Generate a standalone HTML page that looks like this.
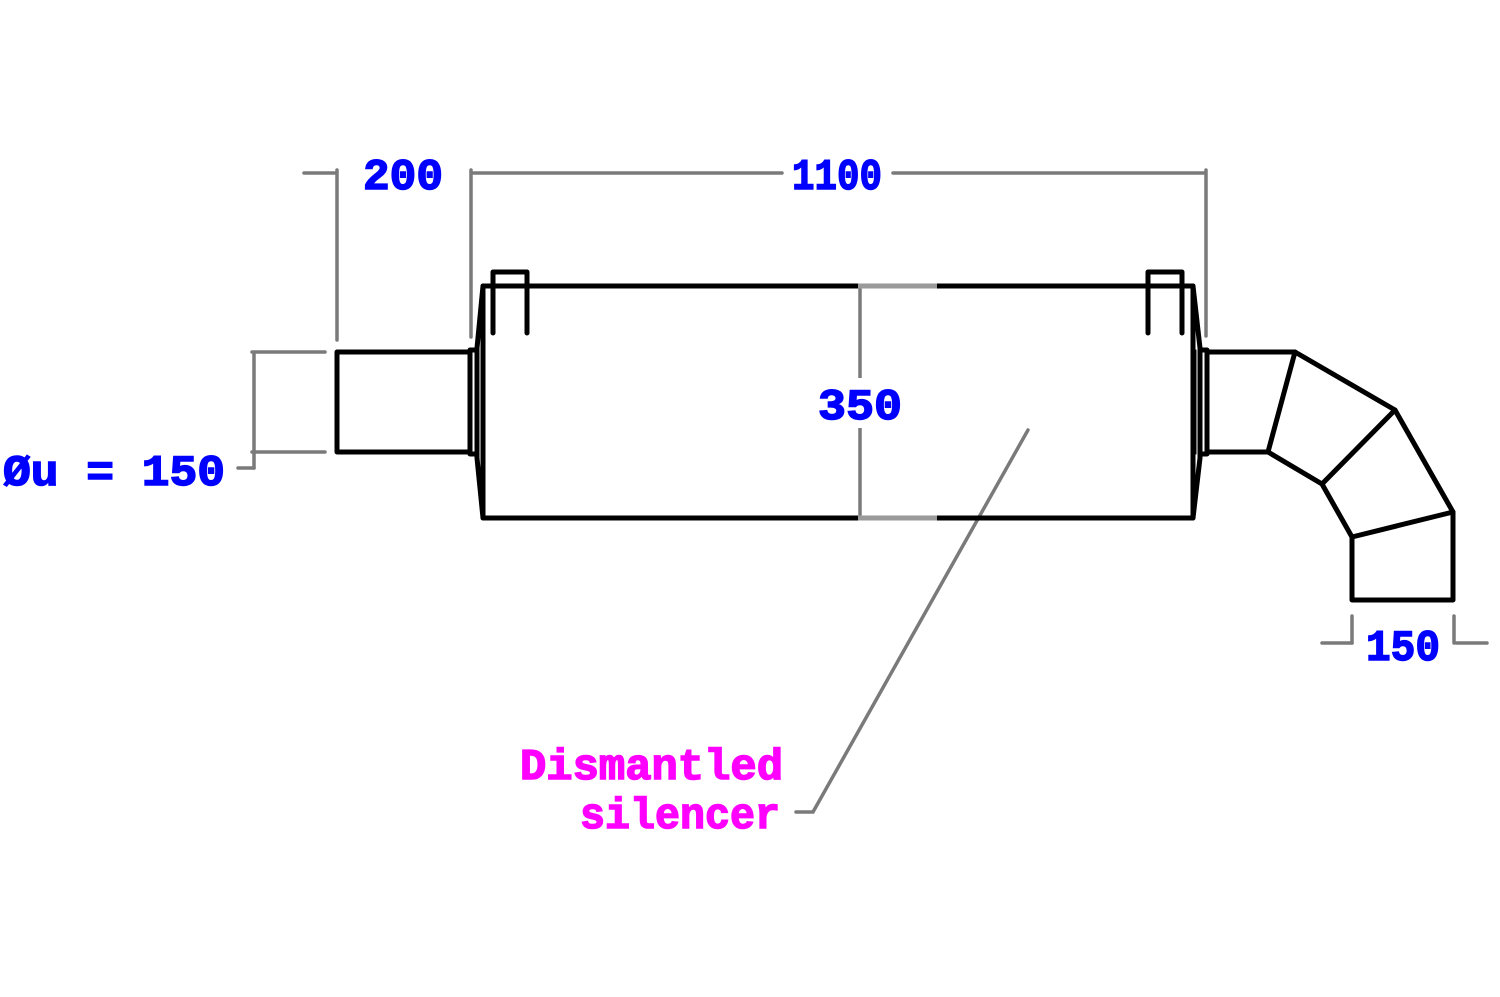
<!DOCTYPE html>
<html><head><meta charset="utf-8"><style>
html,body{margin:0;padding:0;background:#fff;}
svg{display:block}
text{font-family:"Liberation Mono","DejaVu Sans Mono",monospace;font-weight:bold;}
</style></head><body>
<svg width="1500" height="997" viewBox="0 0 1500 997" xmlns="http://www.w3.org/2000/svg">
<g stroke="#7a7a7a" stroke-width="3.5" fill="none" stroke-linecap="round">
<line x1="304" y1="173" x2="336" y2="173"/>
<line x1="337" y1="170" x2="337" y2="340"/>
<line x1="471" y1="170" x2="471" y2="337"/>
<line x1="473" y1="173" x2="782" y2="173"/>
<line x1="893" y1="173" x2="1204" y2="173"/>
<line x1="1206" y1="170" x2="1206" y2="336"/>
<line x1="252" y1="352" x2="325" y2="352"/>
<line x1="252" y1="452" x2="325" y2="452"/>
<line x1="254" y1="354" x2="254" y2="468"/>
<line x1="238" y1="468" x2="254" y2="468"/>
<line x1="1322" y1="643" x2="1352" y2="643"/>
<line x1="1352" y1="616" x2="1352" y2="643"/>
<line x1="1454" y1="616" x2="1454" y2="643"/>
<line x1="1456" y1="643" x2="1487" y2="643"/>
<polyline points="1028,430 813,812 796,812"/>
</g>
<g stroke="#000" stroke-width="5" fill="none" stroke-linejoin="round" stroke-linecap="round">
<polyline points="470,352 337,352 337,452 470,452"/>
<rect x="470" y="350" width="7" height="104"/>
<line x1="481" y1="350" x2="481" y2="454" stroke-width="1"/>
<polygon points="483,286 1193,286 1193,518 483,518"/>
<polyline points="483,286 477,348 477,350"/>
<polyline points="477,454 477,458 483,518"/>
<rect x="1200" y="350" width="7" height="104"/>
<line x1="1196" y1="350" x2="1196" y2="454" stroke-width="1"/>
<polyline points="1193,286 1200,348 1200,350"/>
<polyline points="1200,454 1200,458 1193,518"/>
<polyline points="1207,352 1295,352 1395,410 1453,512 1453,600 1352,600 1352,537 1322,484 1268,452 1207,452"/>
<line x1="1295" y1="352" x2="1268" y2="452"/>
<line x1="1395" y1="410" x2="1322" y2="484"/>
<line x1="1453" y1="512" x2="1352" y2="537"/>
<polyline points="493,333 493,272 527,272 527,333"/>
<polyline points="1148,333 1148,272 1182,272 1182,333"/>
</g>
<g stroke="#7a7a7a" stroke-width="3.5" fill="none">
<line x1="860" y1="286" x2="860" y2="378"/>
<line x1="860" y1="428" x2="860" y2="518"/>
<line x1="858" y1="286" x2="937" y2="286" stroke="#9a9a9a" stroke-width="5"/>
<line x1="858" y1="518" x2="937" y2="518" stroke="#9a9a9a" stroke-width="5"/>
</g>
<g fill="#0000ff" font-size="44" style="font-weight:normal" stroke="#0000ff" stroke-width="1.5">
<text x="363" y="189" textLength="80" lengthAdjust="spacingAndGlyphs">200</text>
<text x="792" y="189" textLength="90" lengthAdjust="spacingAndGlyphs">1100</text>
<text x="818" y="419" textLength="84" lengthAdjust="spacingAndGlyphs">350</text>
<text x="1366" y="660" textLength="74" lengthAdjust="spacingAndGlyphs">150</text>
<text x="3" y="485" textLength="222" lengthAdjust="spacingAndGlyphs">Øu = 150</text>
</g>
<g fill="#ff00ff" font-size="44" style="font-weight:normal" stroke="#ff00ff" stroke-width="1.5">
<text x="520" y="779" textLength="263" lengthAdjust="spacingAndGlyphs">Dismantled</text>
<text x="580" y="828" textLength="200" lengthAdjust="spacingAndGlyphs">silencer</text>
</g>
</svg>
</body></html>
